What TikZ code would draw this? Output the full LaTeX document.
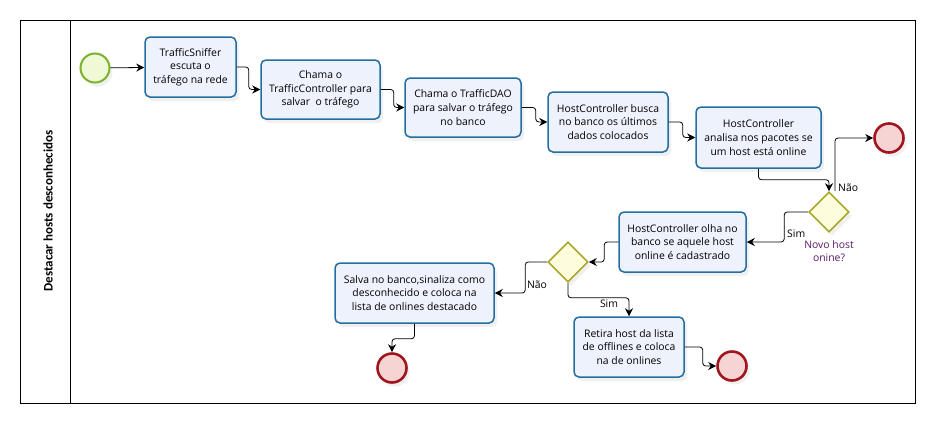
\documentclass[tikz,border=0pt]{standalone}
\usepackage{fontspec}
\setmainfont{Open Sans}
\newfontfamily\titlefont{Carlito}
\usetikzlibrary{shapes.geometric,arrows.meta,shadows,calc}
\definecolor{taskblue}{RGB}{34,110,160}
\definecolor{taskfill}{RGB}{238,242,253}
\definecolor{startgreen}{RGB}{122,179,46}
\definecolor{startfill}{RGB}{240,249,214}
\definecolor{endred}{RGB}{160,22,30}
\definecolor{endfill}{RGB}{246,212,212}
\definecolor{gwolive}{RGB}{168,168,40}
\definecolor{gwfill}{RGB}{253,253,222}
\definecolor{lblpurple}{RGB}{88,24,100}
\tikzset{
  task/.style={rectangle, rounded corners=5pt, draw=taskblue, line width=1.5pt,
    fill=taskfill, align=center, inner sep=2pt,
    font=\fontsize{10.4}{13.7}\selectfont,
    drop shadow={opacity=0.12, shadow xshift=3pt, shadow yshift=-4pt}},
  startev/.style={circle, minimum size=29pt, inner sep=0pt, draw=startgreen, line width=2pt, fill=startfill,
    drop shadow={opacity=0.12, shadow xshift=3pt, shadow yshift=-4pt}},
  endev/.style={circle, minimum size=29pt, inner sep=0pt, draw=endred, line width=2.6pt, fill=endfill,
    drop shadow={opacity=0.12, shadow xshift=3pt, shadow yshift=-4pt}},
  gateway/.style={diamond, aspect=1, minimum width=40pt, minimum height=40pt, inner sep=0pt,
    draw=gwolive, line width=1.6pt, fill=gwfill,
    drop shadow={opacity=0.12, shadow xshift=3pt, shadow yshift=-4pt}},
  flow/.style={draw=black, line width=0.8pt, rounded corners=3pt, -{Stealth[length=8pt,width=8pt]}},
  lbl/.style={font=\fontsize{10.4}{13}\selectfont, inner sep=1pt},
}
\begin{document}
\begin{tikzpicture}[x=1pt,y=-1pt]
\useasboundingbox (0,0) rectangle (936,426);
% pool
\draw[line width=1pt] (20,20) rectangle (915,403);
\draw[line width=1pt] (70,20) -- (70,403);
\node[rotate=90, font=\titlefont\bfseries\fontsize{13}{15}\selectfont] (title) at (48,211) {Destacar hosts desconhecidos};

% events
\node[startev] (s) at (95,68) {};
\node[endev] (e1) at (889,138) {};
\node[endev] (e3) at (392,368) {};
\node[endev] (e4) at (732,366) {};

% tasks
\node[task, minimum width=91pt, minimum height=60pt] (t1) at (190.5,67) {TrafficSniffer\\escuta o\\tráfego na rede};
\node[task, minimum width=119pt, minimum height=59pt] (t2) at (320.5,89.5) {Chama o\\TrafficController para\\salvar\ \ o tráfego};
\node[task, minimum width=116pt, minimum height=59pt] (t3) at (463,107.5) {Chama o TrafficDAO\\para salvar o tráfego\\no banco};
\node[task, minimum width=120pt, minimum height=60pt] (t4) at (608,122) {HostController busca\\no banco os últimos\\dados colocados};
\node[task, minimum width=125pt, minimum height=61pt] (t5) at (758.5,137.5) {HostController\\analisa nos pacotes se\\um host está online};
\node[task, minimum width=127pt, minimum height=60pt] (t6) at (682.5,242) {HostController olha no\\banco se aquele host\\online é cadastrado};
\node[task, minimum width=159pt, minimum height=60pt] (t7) at (414.5,293) {Salva no banco,sinaliza como\\desconhecido e coloca na\\lista de onlines destacado};
\node[task, minimum width=110pt, minimum height=60pt] (t8) at (629,347) {Retira host da lista\\de offlines e coloca\\na de onlines};

% gateways
\node[gateway] (g1) at (829,212) {};
\node[gateway] (g2) at (568,262) {};
\node[lbl, text=lblpurple, align=center] (g1l) at (829,251) {Novo host\\onine?};

% flows
\draw[flow] (s) -- (t1);
\draw[flow] (t1.east) -- ++(12,0) |- (t2.west);
\draw[flow] (t2.east) -- ++(13,0) |- (t3.west);
\draw[flow] (t3.east) -- ++(14,0) |- (t4.west);
\draw[flow] (t4.east) -- ++(14,0) |- (t5.west);
\draw[flow] (t5.south) -- ++(0,11) -| (g1.north);
\draw[flow] ([xshift=6pt]g1.north) |- (e1.west);
\draw[flow] (g1.west) -- ++(-24,0) |- (t6.east);
\draw[flow] (t6.west) -- ++(-14,0) |- (g2.east);
\draw[flow] (g2.west) -- ++(-22,0) |- (t7.east);
\draw[flow] (g2.south) -- ++(0,15) -| (t8.north);
\draw[flow] (t7.south) -- ++(0,15) -| (e3.north);
\draw[flow] (t8.east) -- ++(18,0) |- (e4.west);

% labels
\node[lbl, anchor=west] (lnao1) at (837,188) {Não};
\node[lbl, anchor=west] (lsim1) at (786,234) {Sim};
\node[lbl] (lnao2) at (537,285) {Não};
\node[lbl] (lsim2) at (609,304) {Sim};
\end{tikzpicture}
\end{document}
